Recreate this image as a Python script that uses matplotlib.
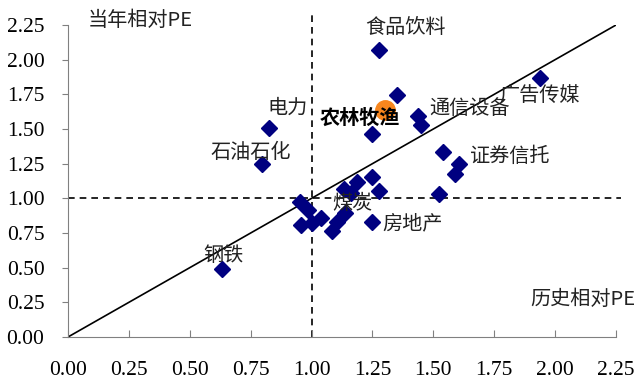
import matplotlib.pyplot as plt

plt.rcParams['font.family'] = ['Noto Sans CJK SC', 'DejaVu Sans']

# historical relative PE (x) vs current-year relative PE (y)
hist_pe = [1.277, 1.350, 1.437, 1.449, 1.248, 0.825, 0.796, 1.937, 1.539, 1.605,
           1.589, 1.524, 0.632, 0.952, 0.984, 0.955, 1.000, 1.039, 1.082, 1.103,
           1.137, 1.134, 1.164, 1.188, 1.247, 1.278, 1.247]
cur_pe = [2.07, 1.745, 1.593, 1.53, 1.464, 1.507, 1.247, 1.867, 1.334, 1.247,
          1.175, 1.031, 0.49, 0.975, 0.916, 0.807, 0.82, 0.86, 0.766, 0.831,
          0.892, 1.065, 1.036, 1.12, 1.151, 1.055, 0.831]

# highlighted sector: 农林牧渔
focus_x = [1.30]
focus_y = [1.64]

labels = ['食品饮料', '电力', '石油石化', '通信设备', '广告传媒', '证券信托', '煤炭', '房地产', '钢铁']
label_xy = [(1.385, 2.235), (0.90, 1.65), (0.75, 1.33), (1.65, 1.65), (1.937, 1.74),
            (1.814, 1.305), (1.166, 0.966), (1.416, 0.815), (0.64, 0.59)]

ticks = [0.00, 0.25, 0.50, 0.75, 1.00, 1.25, 1.50, 1.75, 2.00, 2.25]

fig = plt.figure(figsize=(6.39, 3.83), dpi=100)
ax = fig.add_axes([0.1064, 0.1201, 0.8576, 0.8146])

ax.plot([0, 2.25], [0, 2.25], color='black', lw=1.2, zorder=2)
ax.plot([1, 1], [0, 2.33], color='black', lw=1.2, ls=(0, (4, 3)), clip_on=False, zorder=1)
ax.plot([0, 2.27], [1, 1], color='black', lw=1.2, ls=(0, (4, 3)), clip_on=False, zorder=1)

ax.plot(hist_pe, cur_pe, ls='none', marker='D', ms=8.5, color='#000080', zorder=3)
ax.plot(focus_x, focus_y, ls='none', marker='o', ms=14, color='#F7861E', zorder=4)

for t, (x, y) in zip(labels, label_xy):
    ax.text(x, y, t, ha='center', va='center', fontsize=14.5, color='#222222', zorder=5)
ax.text(1.2, 1.586, '农林牧渔', ha='center', va='center', fontsize=14.5,
        fontweight='bold', color='black', zorder=5)
ax.text(0.082, 2.286, '当年相对PE', ha='left', va='center', fontsize=14.5, color='#222222')
ax.text(2.33, 0.267, '历史相对PE', ha='right', va='center', fontsize=14.5, color='#222222')

ax.set_xlim(0, 2.25)
ax.set_ylim(0, 2.25)
ax.set_xticks(ticks)
ax.set_yticks(ticks)
ax.set_xticklabels([f'{t:.2f}' for t in ticks], family='Liberation Serif', fontsize=15.5)
ax.set_yticklabels([f'{t:.2f}' for t in ticks], family='Liberation Serif', fontsize=15.5)
ax.tick_params(axis='x', direction='in', length=5, pad=17, color='#808080')
ax.tick_params(axis='y', direction='out', length=4, pad=13, color='#808080')

for s in ['top', 'right']:
    ax.spines[s].set_visible(False)
for s in ['left', 'bottom']:
    ax.spines[s].set_color('#808080')

fig.savefig('out.png', dpi=100)
